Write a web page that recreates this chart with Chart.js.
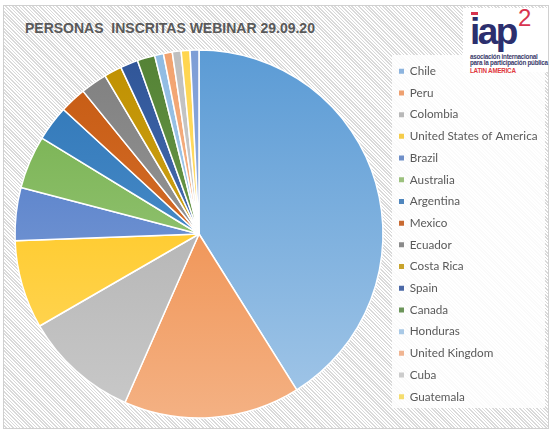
<!DOCTYPE html>
<html>
<head>
<meta charset="utf-8">
<script src="https://cdn.jsdelivr.net/npm/chart.js@4.4.1/dist/chart.umd.min.js"></script>
<style>
  html, body { margin: 0; padding: 0; background: #fff; }
  #wrap { position: relative; width: 553px; height: 434px; overflow: hidden; }
  #frame {
    position: absolute; left: 3px; top: 5px; width: 544px; height: 422px;
    border: 1px solid #d0d0d0;
    background: repeating-linear-gradient(45deg, #fff 0, #fff 1.3px, #dadada 1.3px, #dadada 2.4px);
  }
  #legendBg { position: absolute; left: 392px; top: 55px; width: 153px; height: 353px; background: rgba(255,255,255,0.85); }
  #title {
    position: absolute; left: 25px; top: 20px; white-space: pre;
    font: bold 14px "Liberation Sans", Arial, sans-serif; color: #595959; line-height: 16px;
  }
  #logo { position: absolute; left: 463px; top: 8px; width: 85px; height: 64px; background: #fff; }
  #logo .iap { position: absolute; left: 7px; top: 4px; font: bold 37px "Liberation Sans", Arial, sans-serif; color: #2c2f6e; letter-spacing: -2.5px; line-height: 40px; }
  #logo .dot { position: absolute; left: 8px; top: 4px; width: 7px; height: 3px; background: #d8344f; }
  #logo .sq { position: absolute; left: 55px; top: -3px; font: 24px "Liberation Sans", Arial, sans-serif; color: #d8344f; line-height: 26px; }
  #logo .small { position: absolute; left: 7px; font: bold 6.3px "Liberation Sans", Arial, sans-serif; color: #3a3a6a; letter-spacing: -0.25px; white-space: nowrap; line-height: 7px; }
  #logo .la { color: #e0393e; }
  canvas { position: absolute; left: 0; top: 0; }
</style>
</head>
<body>
<div id="wrap">
  <div id="frame"></div>
  <div id="legendBg"></div>
  <div id="title">PERSONAS  INSCRITAS WEBINAR 29.09.20</div>
  <div id="logo">
    <div class="iap">iap</div>
    <div class="dot"></div>
    <div class="sq">2</div>
    <div class="small" style="top:45px">asociación internacional</div>
    <div class="small" style="top:50.5px">para la participación pública</div>
    <div class="small la" style="top:58.5px">LATIN AMERICA</div>
  </div>
  <canvas id="webinarChart" width="553" height="434"></canvas>
</div>
<script>
const countries = ['Chile', 'Peru', 'Colombia', 'United States of America', 'Brazil', 'Australia',
  'Argentina', 'Mexico', 'Ecuador', 'Costa Rica', 'Spain', 'Canada', 'Honduras',
  'United Kingdom', 'Cuba', 'Guatemala', 'Otros'];
const inscritos = [53, 20, 13, 10, 6, 6, 4, 3, 3, 2, 2, 2, 1, 1, 1, 1, 1];

const topColors = ['#5b9bd5', '#ed7d31', '#a5a5a5', '#ffc000', '#4472c4', '#70ad47',
  '#2e75b6', '#c55a11', '#7f7f7f', '#bf9000', '#2f5597', '#548235', '#8fbbe3',
  '#f2a26e', '#bfbfbf', '#ffd54d', '#7d9dd6'];
const bottomColors = ['#a3c7e8', '#f4b183', '#c9c9c9', '#ffd966', '#8faadc', '#a9d18e',
  '#5b9bd5', '#e07b3c', '#a6a6a6', '#d9b02e', '#5b7fc4', '#7bab5a', '#b4d2ee',
  '#f7c4a2', '#d6d6d6', '#ffe48c', '#a6bde6'];
const legendColors = ['#8db4de', '#eea070', '#b8b8b8', '#f5cc4a', '#6f8fc8', '#9cc17e',
  '#4f86bd', '#c86a32', '#8a8a8a', '#c8a32c', '#4b68a6', '#6c955a', '#a9c9e6',
  '#f0b592', '#cccccc', '#f5dd6e', '#8fa8d8'];

function sliceColor(context) {
  const chart = context.chart;
  const area = chart.chartArea;
  const i = context.dataIndex;
  if (!area) return topColors[i];
  const g = chart.ctx.createLinearGradient(0, area.top, 0, area.bottom);
  g.addColorStop(0, topColors[i]);
  g.addColorStop(1, bottomColors[i]);
  return g;
}

const chart = new Chart(document.getElementById('webinarChart'), {
  type: 'pie',
  data: {
    labels: countries,
    datasets: [{
      label: 'Personas inscritas',
      data: inscritos,
      backgroundColor: sliceColor,
      borderColor: '#ffffff',
      borderWidth: 1.5,
      radius: 184
    }]
  },
  options: {
    responsive: false,
    animation: false,
    layout: {
      padding: { top: 50, bottom: 16, left: 9, right: 0 }
    },
    plugins: {
      title: { display: false },
      tooltip: { enabled: true },
      legend: {
        position: 'right',
        align: 'center',
        labels: {
          boxWidth: 5,
          boxHeight: 5,
          padding: 10,
          color: '#595959',
          font: { family: 'Lato, "Noto Sans", sans-serif', size: 11.7 },
          filter: (item) => item.index < 16,
          generateLabels: (c) => {
            const items = Chart.overrides.doughnut.plugins.legend.labels.generateLabels(c);
            items.forEach((item, i) => {
              item.fillStyle = legendColors[i];
              item.strokeStyle = legendColors[i];
              item.lineWidth = 0;
            });
            return items;
          }
        }
      }
    }
  }
});

// put the legend box edge at x = 389 so the pie is centred at x = 199
chart.options.layout.padding.right = Math.max(0, 553 - 389 - chart.legend.width);
chart.update('none');
</script>
</body>
</html>
